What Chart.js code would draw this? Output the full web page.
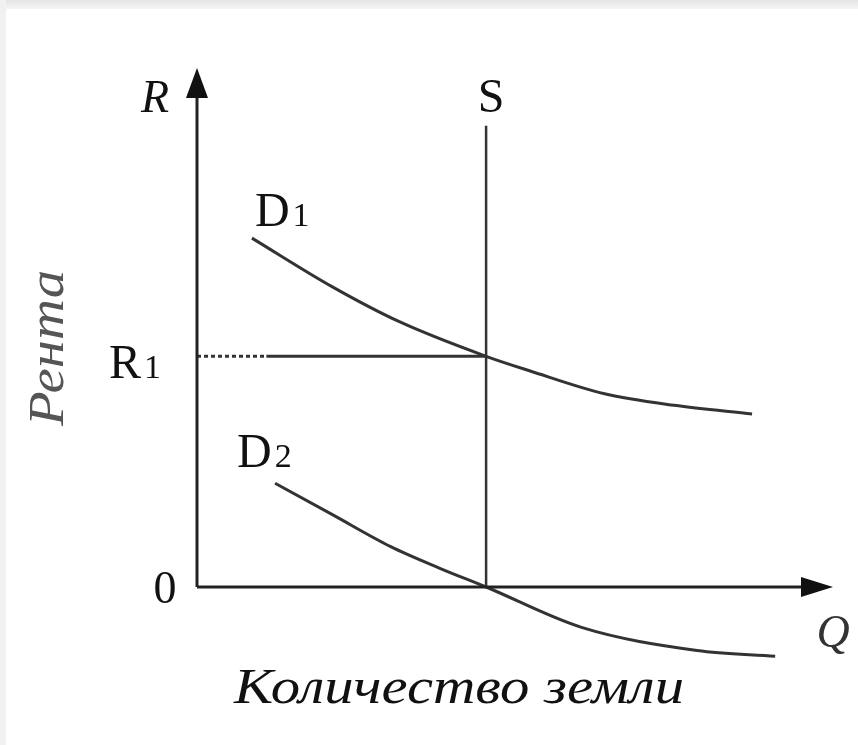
<!DOCTYPE html>
<html>
<head>
<meta charset="utf-8">
<script src="https://cdn.jsdelivr.net/npm/chart.js@4.4.0/dist/chart.umd.min.js"></script>
<style>
  html, body { margin: 0; padding: 0; background: #fff; }
  #wrap { width: 858px; height: 745px; position: relative; }
</style>
</head>
<body>
<div id="wrap"><canvas id="chartCanvas" width="858" height="745"></canvas></div>
<script>
// quantity of land (x) and rent (y), in arbitrary units
const supplyQ = 10;
const supplyTop = 16;
const rentR1 = 8;
const dottedEnd = 2.4;

const d1Q = [1.9, 4.7, 7.0, 10, 11.5, 14.1, 16.5, 19.2];
const d1R = [12.1, 10.4, 9.2, 8.0, 7.5, 6.7, 6.3, 6.0];

const d2Q = [2.7, 4.7, 6.7, 8.4, 10, 13.3, 17.3, 20];
const d2R = [3.6, 2.5, 1.4, 0.65, 0, -1.4, -2.2, -2.4];

const axisMaxQ = 22;
const axisMaxR = 18;

const yTickLabels = ["0", "R1"];
const yTickValues = [0, rentR1];
const curveLabels = ["D1", "D2", "S"];

const lineColor = "#333";
const serif = "'Liberation Serif', 'DejaVu Serif', serif";

function pts(xs, ys) {
  return xs.map((x, i) => ({ x: x, y: ys[i] }));
}

function drawSub(ctx, main, sub, x, y, size, subSize) {
  ctx.textAlign = "left";
  ctx.textBaseline = "alphabetic";
  ctx.font = size + "px " + serif;
  ctx.fillText(main, x, y);
  const w = ctx.measureText(main).width;
  ctx.font = subSize + "px " + serif;
  ctx.fillText(sub, x + w + 3, y);
}

const decorPlugin = {
  id: "decor",
  beforeDraw(chart) {
    const ctx = chart.ctx;
    ctx.save();
    ctx.fillStyle = "#fff";
    ctx.fillRect(0, 0, chart.width, chart.height);
    const g = ctx.createLinearGradient(0, 0, 0, 10);
    g.addColorStop(0, "#e4e4e4");
    g.addColorStop(1, "#f7f7f7");
    ctx.fillStyle = g;
    ctx.fillRect(0, 0, chart.width, 9);
    ctx.fillStyle = "#f1f1f1";
    ctx.fillRect(0, 0, 6, chart.height);
    ctx.restore();
  },
  afterDraw(chart) {
    const ctx = chart.ctx;
    const xs = chart.scales.x, ys = chart.scales.y;
    const x0 = xs.getPixelForValue(0), y0 = ys.getPixelForValue(0);
    const xEnd = xs.getPixelForValue(axisMaxQ), yEnd = ys.getPixelForValue(axisMaxR);
    ctx.save();
    ctx.fillStyle = "#111";
    // arrowheads
    ctx.beginPath();
    ctx.moveTo(x0, yEnd);
    ctx.lineTo(x0 - 11, yEnd + 30);
    ctx.lineTo(x0 + 11, yEnd + 30);
    ctx.closePath();
    ctx.fill();
    ctx.beginPath();
    ctx.moveTo(xEnd, y0);
    ctx.lineTo(xEnd - 32, y0 - 10);
    ctx.lineTo(xEnd - 32, y0 + 10);
    ctx.closePath();
    ctx.fill();

    ctx.fillStyle = "#111";
    // axis names
    ctx.font = "italic 46px " + serif;
    ctx.textAlign = "center";
    ctx.textBaseline = "alphabetic";
    ctx.fillText("R", x0 - 42, yEnd + 44);
    ctx.fillStyle = "#333";
    ctx.fillText("Q", xEnd + 0, y0 + 60);
    ctx.fillStyle = "#111";

    // supply label
    const sx = xs.getPixelForValue(supplyQ);
    ctx.font = "48px " + serif;
    ctx.fillText(curveLabels[2], sx + 5, yEnd + 44);

    // y ticks
    const r1y = ys.getPixelForValue(yTickValues[1]);
    ctx.font = "46px " + serif;
    ctx.textAlign = "center";
    ctx.fillText(yTickLabels[0], x0 - 32, y0 + 16);
    drawSub(ctx, "R", "1", x0 - 88, r1y + 22, 48, 34);

    // demand labels
    const d1x = xs.getPixelForValue(d1Q[0]), d1y = ys.getPixelForValue(d1R[0]);
    drawSub(ctx, "D", "1", d1x + 3, d1y - 12, 48, 34);
    const d2x = xs.getPixelForValue(d2Q[0]), d2y = ys.getPixelForValue(d2R[0]);
    drawSub(ctx, "D", "2", d2x - 38, d2y - 16, 48, 34);

    // bottom caption, stretched to the width in the picture
    const caption = "Количество земли";
    ctx.font = "italic 50px " + serif;
    const cw = ctx.measureText(caption).width;
    ctx.save();
    ctx.translate(459, 703);
    ctx.scale(450 / cw, 1);
    ctx.textAlign = "center";
    ctx.fillText(caption, 0, 0);
    ctx.restore();

    // vertical caption
    ctx.save();
    ctx.translate(50, 348);
    ctx.rotate(-Math.PI / 2);
    ctx.fillStyle = "#555";
    ctx.font = "italic 50px " + serif;
    const vw = ctx.measureText("Рента").width;
    ctx.scale(156 / vw, 1);
    ctx.textAlign = "center";
    ctx.textBaseline = "middle";
    ctx.fillText("Рента", 0, 0);
    ctx.restore();

    ctx.restore();
  }
};

const ctx = document.getElementById("chartCanvas").getContext("2d");

new Chart(ctx, {
  type: "scatter",
  data: {
    datasets: [
      { label: "Q axis", data: [{ x: 0, y: 0 }, { x: axisMaxQ - 1, y: 0 }], borderWidth: 3, borderColor: "#222" },
      { label: "R axis", data: [{ x: 0, y: 0 }, { x: 0, y: axisMaxR - 1 }], borderWidth: 3, borderColor: "#222" },
      { label: "S", data: [{ x: supplyQ, y: 0 }, { x: supplyQ, y: supplyTop }], borderWidth: 2.5 },
      { label: "R1", data: [{ x: dottedEnd, y: rentR1 }, { x: supplyQ, y: rentR1 }], borderWidth: 3 },
      { label: "R1 dotted", data: [{ x: 0, y: rentR1 }, { x: dottedEnd, y: rentR1 }], borderWidth: 3, borderDash: [4, 3] },
      { label: "D1", data: pts(d1Q, d1R), borderWidth: 3, tension: 0.4, cubicInterpolationMode: "monotone" },
      { label: "D2", data: pts(d2Q, d2R), borderWidth: 3, tension: 0.4, cubicInterpolationMode: "monotone" }
    ].map(ds => Object.assign({ showLine: true, borderColor: lineColor, pointRadius: 0, clip: false }, ds))
  },
  options: {
    responsive: false,
    animation: false,
    layout: { padding: { left: 197, right: 25, top: 68, bottom: 158 } },
    plugins: { legend: { display: false }, tooltip: { enabled: false } },
    scales: {
      x: { type: "linear", min: 0, max: axisMaxQ, display: false },
      y: { type: "linear", min: 0, max: axisMaxR, display: false }
    }
  },
  plugins: [decorPlugin]
});
</script>
</body>
</html>
